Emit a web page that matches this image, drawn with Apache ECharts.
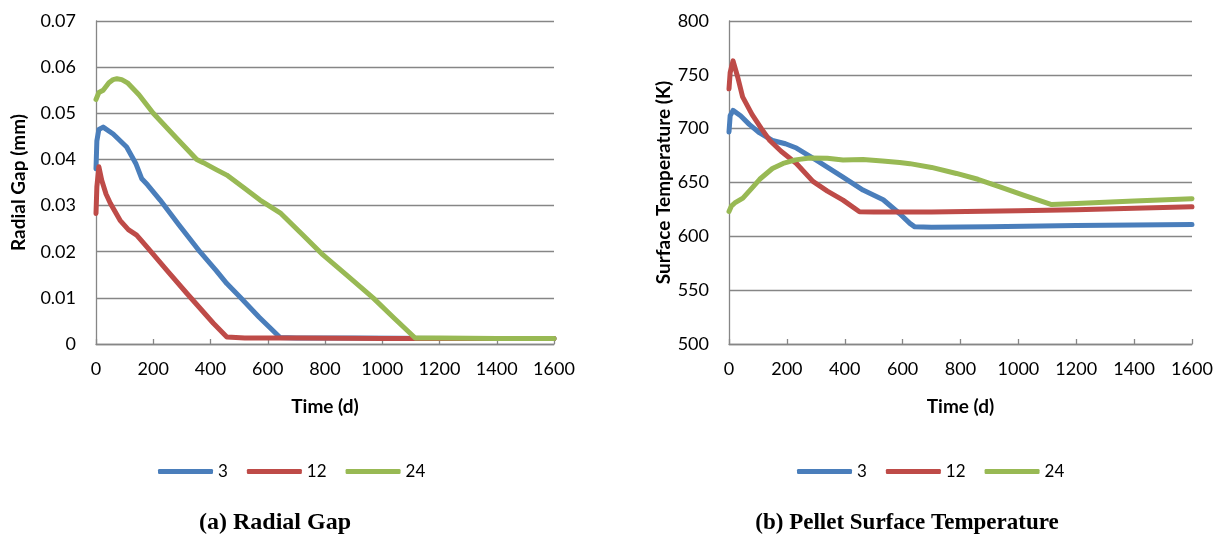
<!DOCTYPE html>
<html>
<head>
<meta charset="utf-8">
<title>Radial Gap and Pellet Surface Temperature</title>
<script src="https://cdn.jsdelivr.net/npm/echarts@6/dist/echarts.min.js"></script>
<style>
  html, body { margin: 0; padding: 0; background: #ffffff; }
  #chart { width: 1222px; height: 541px; }
</style>
</head>
<body>
<div id="chart"></div>
<script>
// Series names (legend labels)
const seriesNames = ['3', '12', '24'];
const seriesColors = ['#4A7EBB', '#BE4B48', '#98B954'];

// X tick labels (days)
const timeTicks = [0, 200, 400, 600, 800, 1000, 1200, 1400, 1600];
// Y tick labels
const gapTicks = [0, 0.01, 0.02, 0.03, 0.04, 0.05, 0.06, 0.07];
const tempTicks = [500, 550, 600, 650, 700, 750, 800];

// (a) Radial gap (mm) vs time (d)
const gapDays3 = [0, 3, 10, 25, 60, 107, 140, 160, 180, 224, 290, 363, 420, 457, 503, 570, 643, 700, 900, 1200, 1600];
const gapVals3 = [0.038, 0.044, 0.0465, 0.047, 0.0455, 0.0427, 0.039, 0.0358, 0.0345, 0.0312, 0.0258, 0.020, 0.0159, 0.0131, 0.0102, 0.0058, 0.0014, 0.0013, 0.0013, 0.0012, 0.0012];

const gapDays12 = [0, 3, 10, 20, 35, 50, 84, 113, 142, 177, 247, 317, 410, 457, 520, 700, 1000, 1300, 1600];
const gapVals12 = [0.0283, 0.034, 0.0384, 0.0355, 0.0325, 0.0305, 0.0268, 0.0248, 0.0236, 0.0211, 0.016, 0.011, 0.0045, 0.0015, 0.0013, 0.0013, 0.0012, 0.0012, 0.0012];

const gapDays24 = [0, 10, 25, 45, 60, 73, 90, 110, 150, 200, 280, 352, 375, 420, 457, 520, 573, 646, 720, 793, 880, 968, 1040, 1115, 1200, 1400, 1600];
const gapVals24 = [0.053, 0.0545, 0.055, 0.0566, 0.0573, 0.0575, 0.0573, 0.0566, 0.054, 0.050, 0.0447, 0.040, 0.0393, 0.0378, 0.0366, 0.0337, 0.0312, 0.0283, 0.0238, 0.0193, 0.0147, 0.010, 0.0057, 0.0013, 0.0013, 0.0012, 0.0012];

// (b) Pellet surface temperature (K) vs time (d)
const tempDays3 = [0, 4, 14, 40, 70, 106, 150, 195, 233, 300, 394, 463, 533, 590, 625, 642, 700, 900, 1200, 1600];
const tempVals3 = [697, 712, 717, 712, 704, 696, 689, 686, 682, 671, 655, 643, 634, 621, 612, 608.8, 608.5, 609, 610, 611];

const tempDays12 = [0, 4, 14, 30, 47, 80, 112, 141, 180, 233, 290, 340, 394, 451, 500, 700, 1000, 1200, 1400, 1600];
const tempVals12 = [737, 752, 763, 748, 729.5, 713, 700, 689, 679, 667.7, 651, 642, 633.6, 622.8, 622.5, 622.7, 623.8, 624.7, 626, 627.4];

const tempDays24 = [0, 8, 20, 48, 80, 106, 150, 187, 230, 279, 340, 394, 463, 530, 590, 625, 700, 786, 860, 936, 1020, 1115, 1200, 1400, 1600];
const tempVals24 = [623, 628, 631, 635.5, 645, 653, 663, 667.7, 671, 672.8, 672.5, 671, 671.4, 670, 668.6, 667.5, 664, 658.4, 653, 646, 638, 629.5, 630.5, 632.8, 635];

const pairs = (xs, ys) => xs.map((x, i) => [x, ys[i]]);

const FONT = 'Lato, "Open Sans", sans-serif';
const SERIF = '"Liberation Serif", "Times New Roman", serif';
const AXIS_GRAY = '#868686';

function xAxisFor(gridIndex) {
  return {
    type: 'value', gridIndex,
    min: timeTicks[0], max: timeTicks[timeTicks.length - 1], interval: 200,
    name: 'Time (d)', nameLocation: 'middle', nameGap: 53,
    nameTextStyle: { fontFamily: FONT, fontWeight: 'bold', fontSize: 19, color: '#000' },
    axisLine: { show: true, onZero: false, lineStyle: { color: AXIS_GRAY, width: 1.3 } },
    axisTick: { show: true, inside: true, length: 5, lineStyle: { color: AXIS_GRAY, width: 1.3 } },
    axisLabel: { fontFamily: FONT, fontSize: 18, color: '#000', margin: 16, formatter: v => String(v) },
    splitLine: { show: false }
  };
}

function yAxisFor(gridIndex, ticks, interval, name, gap) {
  return {
    type: 'value', gridIndex,
    min: ticks[0], max: ticks[ticks.length - 1], interval,
    name, nameLocation: 'middle', nameGap: gap,
    nameTextStyle: { fontFamily: FONT, fontWeight: 'bold', fontSize: 19, color: '#000' },
    axisLine: { show: true, lineStyle: { color: AXIS_GRAY, width: 1.3 } },
    axisTick: { show: false },
    axisLabel: {
      fontFamily: FONT, fontSize: 18, color: '#000', margin: 20,
      formatter: v => String(+v.toFixed(4))
    },
    splitLine: { show: true, lineStyle: { color: AXIS_GRAY, width: 1.3 } }
  };
}

function lineSeries(name, idx, axisIndex, data) {
  return {
    type: 'line', name,
    xAxisIndex: axisIndex, yAxisIndex: axisIndex,
    data, showSymbol: false, symbol: 'none',
    smooth: false,
    color: seriesColors[idx],
    lineStyle: { width: 5, color: seriesColors[idx], cap: 'round', join: 'round' },
    emphasis: { disabled: true },
    animation: false
  };
}

function legendAt(left) {
  return {
    left, top: 463, padding: 0,
    data: seriesNames.map(n => ({ name: n, icon: 'roundRect' })),
    itemWidth: 55, itemHeight: 5, itemGap: 19,
    textStyle: { fontFamily: FONT, fontSize: 17, color: '#000' },
    selectedMode: false
  };
}

const chart = echarts.init(document.getElementById('chart'), null, { renderer: 'canvas' });

chart.setOption({
  backgroundColor: '#ffffff',
  animation: false,
  grid: [
    { left: 96, top: 21, width: 458, height: 323 },
    { left: 729, top: 21, width: 463, height: 323 }
  ],
  xAxis: [xAxisFor(0), xAxisFor(1)],
  yAxis: [
    yAxisFor(0, gapTicks, 0.01, 'Radial Gap (mm)', 68),
    yAxisFor(1, tempTicks, 50, 'Surface Temperature (K)', 55)
  ],
  legend: [legendAt(158), legendAt(797)],
  series: [
    lineSeries(seriesNames[0], 0, 0, pairs(gapDays3, gapVals3)),
    lineSeries(seriesNames[1], 1, 0, pairs(gapDays12, gapVals12)),
    lineSeries(seriesNames[2], 2, 0, pairs(gapDays24, gapVals24)),
    lineSeries(seriesNames[0], 0, 1, pairs(tempDays3, tempVals3)),
    lineSeries(seriesNames[1], 1, 1, pairs(tempDays12, tempVals12)),
    lineSeries(seriesNames[2], 2, 1, pairs(tempDays24, tempVals24))
  ],
  graphic: [
    {
      type: 'text', x: 275, y: 523,
      style: { text: '(a) Radial Gap', fontFamily: SERIF, fontWeight: 'bold', fontSize: 24,
               fill: '#000', align: 'center', verticalAlign: 'middle' }
    },
    {
      type: 'text', x: 907, y: 523,
      style: { text: '(b) Pellet Surface Temperature', fontFamily: SERIF, fontWeight: 'bold', fontSize: 23,
               fill: '#000', align: 'center', verticalAlign: 'middle' }
    }
  ]
});
</script>
</body>
</html>
